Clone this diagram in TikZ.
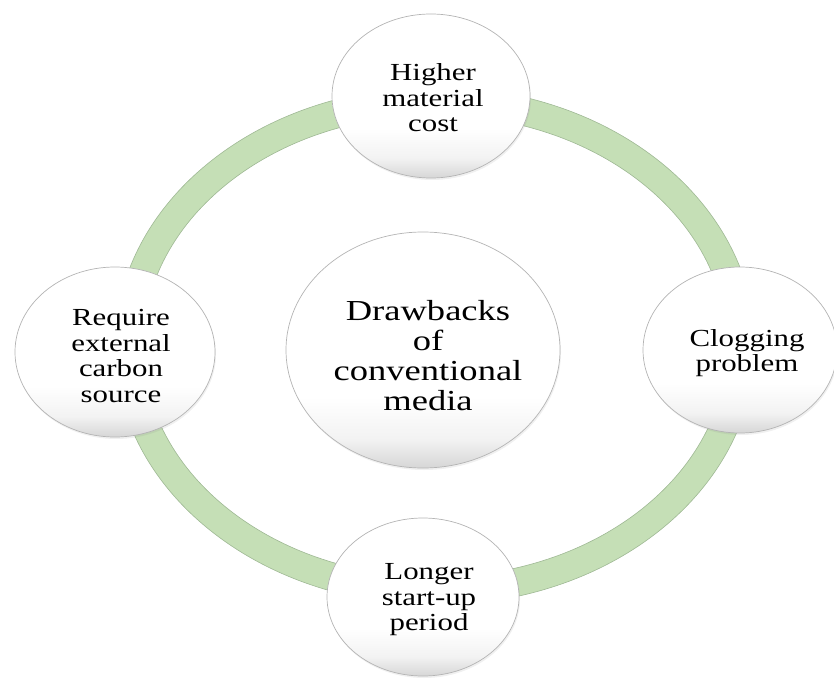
\documentclass[tikz,border=0pt]{standalone}
\usepackage{fontspec}
\setmainfont{Liberation Serif}[FakeStretch=1.26]
\usetikzlibrary{shapes.geometric,shadows}
\definecolor{ringgreen}{RGB}{197,223,182}
\definecolor{ringedge}{RGB}{160,185,150}
\definecolor{circedge}{RGB}{180,180,180}
\pgfdeclareverticalshading{bubbleshade}{100bp}{color(0bp)=(black!16); color(25bp)=(black!16); color(31bp)=(black!5); color(40bp)=(white); color(100bp)=(white)}
\tikzset{
  bubble/.style={ellipse, inner sep=0pt, draw=circedge, line width=0.7pt,
    shading=bubbleshade,
    drop shadow={opacity=0.12, shadow xshift=1pt, shadow yshift=-2pt}},
  smalltext/.style={align=center, font=\fontsize{24.5}{25.5}\selectfont, text=black},
  bigtext/.style={align=center, font=\fontsize{29}{30}\selectfont, text=black}
}
\begin{document}
\begin{tikzpicture}[x=1pt,y=-1pt]
\useasboundingbox (0,0) rectangle (834,679);
% ring
\coordinate (ringc) at (435,346);
\draw[ringgreen, line width=28pt] (ringc) ellipse [x radius=306, y radius=245];
\draw[ringedge, line width=0.6pt] (ringc) ellipse [x radius=320, y radius=259];
\draw[ringedge, line width=0.6pt] (ringc) ellipse [x radius=292, y radius=231];
% satellites
\node[bubble, minimum width=198pt, minimum height=164pt] (top) at (431,96) {};
\node[smalltext] (toptext) at (433,98) {Higher\\material\\cost};
\node[bubble, minimum width=200pt, minimum height=170pt] (left) at (115,352) {};
\node[smalltext] (lefttext) at (121,356) {Require\\external\\carbon\\source};
\node[bubble, minimum width=194pt, minimum height=166pt] (right) at (740,350) {};
\node[smalltext] (righttext) at (747,353) {Clogging\\problem};
\node[bubble, minimum width=192pt, minimum height=158pt] (bottom) at (423,597) {};
\node[smalltext] (bottomtext) at (429,600) {Longer\\start-up\\period};
% centre
\node[bubble, minimum width=274pt, minimum height=236pt] (centre) at (423,350) {};
\node[bigtext] (centretext) at (428,356) {Drawbacks\\of\\conventional\\media};
\end{tikzpicture}
\end{document}
